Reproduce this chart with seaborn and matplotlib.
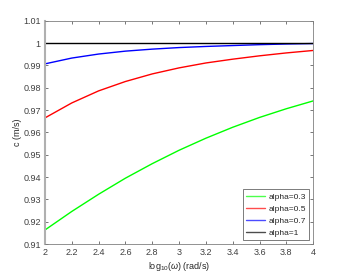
import numpy as np
import pandas as pd
import seaborn as sns
import matplotlib.pyplot as plt

log_omega = [2.0, 2.2, 2.4, 2.6, 2.8, 3.0, 3.2, 3.4, 3.6, 3.8, 4.0]
c_alpha03 = [0.9163, 0.9246, 0.9323, 0.9395, 0.9460, 0.9520, 0.9574, 0.9623, 0.9667, 0.9706, 0.9741]
c_alpha05 = [0.9665, 0.9732, 0.9786, 0.9828, 0.9862, 0.9889, 0.9911, 0.9928, 0.9943, 0.9956, 0.9967]
c_alpha07 = [0.9907, 0.9933, 0.9951, 0.9964, 0.9973, 0.9980, 0.9985, 0.9989, 0.9993, 0.9996, 0.9998]
c_alpha1 = [1.0] * len(log_omega)
labels = ["alpha=0.3", "alpha=0.5", "alpha=0.7", "alpha=1"]
colors = ["#00ff00", "#ff0000", "#0000ff", "#000000"]

yticks = [0.91, 0.92, 0.93, 0.94, 0.95, 0.96, 0.97, 0.98, 0.99, 1.0, 1.01]
ytick_labels = ["0.91", "0.92", "0.93", "0.94", "0.95", "0.96", "0.97", "0.98", "0.99", "1", "1.01"]
xticks = [2.0, 2.2, 2.4, 2.6, 2.8, 3.0, 3.2, 3.4, 3.6, 3.8, 4.0]
xtick_labels = ["2", "2.2", "2.4", "2.6", "2.8", "3", "3.2", "3.4", "3.6", "3.8", "4"]


def main():
    sns.set_style("ticks")
    plt.rcParams["font.family"] = ["Liberation Sans", "DejaVu Sans"]
    plt.rcParams["mathtext.fontset"] = "custom"
    plt.rcParams["mathtext.rm"] = "Liberation Sans"
    plt.rcParams["mathtext.it"] = "Liberation Sans:italic"

    frames = []
    for lab, vals in zip(labels, [c_alpha03, c_alpha05, c_alpha07, c_alpha1]):
        frames.append(pd.DataFrame({"x": log_omega, "c": vals, "series": lab}))
    df = pd.concat(frames, ignore_index=True)

    fig = plt.figure(figsize=(3.46, 2.77), dpi=100)
    ax = fig.add_axes([0.130, 0.119, 0.775, 0.806])
    sns.lineplot(data=df, x="x", y="c", hue="series", palette=colors,
                 linewidth=1.0, ax=ax)

    ax.set_xlim(2, 4)
    ax.set_ylim(0.91, 1.01)
    ax.set_xticks(xticks)
    ax.set_xticklabels(xtick_labels)
    ax.set_yticks(yticks)
    ax.set_yticklabels(ytick_labels)
    ax.tick_params(direction="in", length=2.5, width=0.5, labelsize=6.5,
                   colors="#404040", top=True, right=True, pad=3)
    for sp in ax.spines.values():
        sp.set_color("#808080")
        sp.set_linewidth(0.6)
    ax.spines["left"].set_color("#b0b0b0")
    ax.spines["left"].set_linewidth(1.5)

    ax.set_xlabel(r"log$_{10}$($\omega$) (rad/s)", fontsize=6.5, labelpad=2)
    ax.set_ylabel("c (m/s)", fontsize=6.5, labelpad=1)

    leg = ax.legend(title=None, loc="lower right", fontsize=6, frameon=True,
                    fancybox=False, borderpad=0.4, labelspacing=0.5,
                    handlelength=2.2, handletextpad=0.4,
                    borderaxespad=0.5)
    leg.get_frame().set_edgecolor("#404040")
    leg.get_frame().set_linewidth(0.6)
    for line in leg.get_lines():
        line.set_alpha(0.7)

    fig.savefig("out.png", dpi=100)


if __name__ == "__main__":
    main()
